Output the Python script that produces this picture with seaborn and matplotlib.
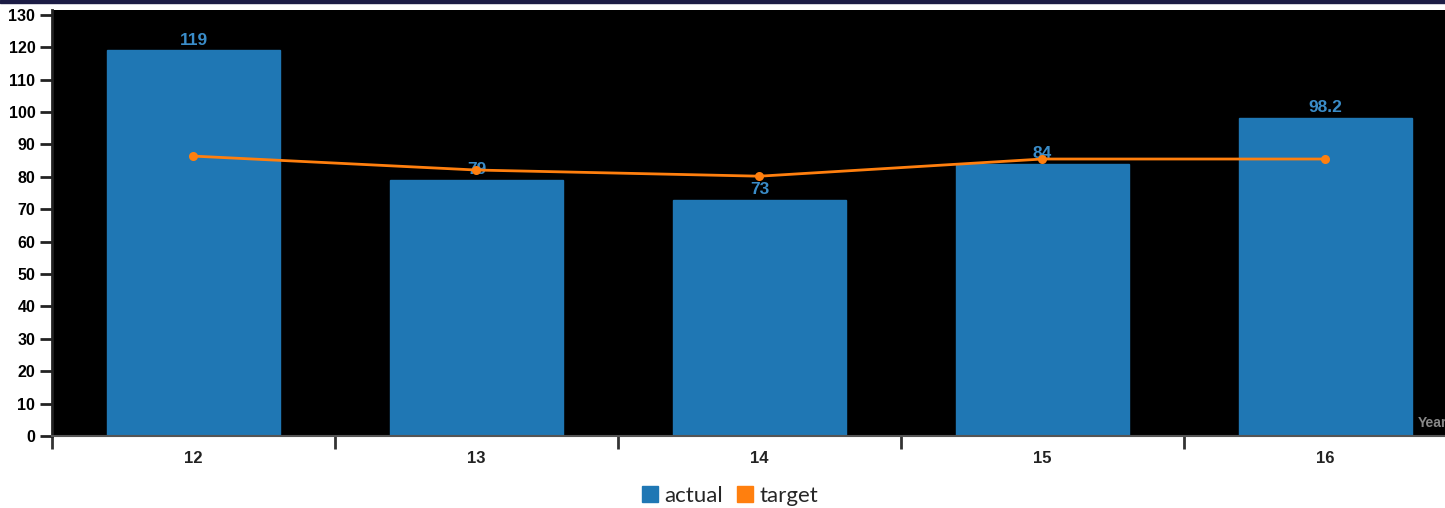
import matplotlib
matplotlib.use("Agg")
import matplotlib.pyplot as plt
import matplotlib.patches as mpatches
import seaborn as sns
import numpy as np

# Data
years = ["12", "13", "14", "15", "16"]
actual = [119, 79, 73, 84, 98.2]
target = [86.4, 82.1, 80.2, 85.5, 85.5]
actual_labels = ["119", "79", "73", "84", "98.2"]

BLUE = "#1f77b4"
ORANGE = "#ff7f0e"
LABEL_BLUE = "#3a8cc8"

sns.set_theme(style="white")
plt.rcParams["font.family"] = ["Liberation Sans", "DejaVu Sans"]

fig = plt.figure(figsize=(14.45, 5.08), dpi=100)
W, H = 1445, 508
ax = fig.add_axes([52 / W, (H - 436) / H, (W - 52) / W, (436 - 10) / H])
ax.set_facecolor("black")

sns.barplot(x=years, y=actual, color=BLUE, width=0.61, saturation=1,
            edgecolor=BLUE, ax=ax, zorder=2)
sns.pointplot(x=years, y=target, color=ORANGE, markers="o", markersize=5,
              linewidth=2, ax=ax, zorder=4)

for i, (v, lab) in enumerate(zip(actual, actual_labels)):
    ax.annotate(lab, (i, v), xytext=(0, 2), textcoords="offset points",
                ha="center", va="bottom", color=LABEL_BLUE, fontsize=12.5,
                fontweight="bold", zorder=3)

ax.set_ylim(0, 131.5)
ax.set_xlim(-0.5, -0.5 + (W - 52) / 283)
ax.set_yticks(np.arange(0, 131, 10))
ax.set_yticklabels([str(t) for t in range(0, 131, 10)], fontsize=11.5,
                   fontweight="bold", color="black")

# category labels at centres, tick marks at band boundaries
ax.set_xticks(range(len(years)))
ax.set_xticklabels(years, fontsize=12, fontweight="bold", color="#222222")
ax.set_xticks(np.arange(-0.5, len(years) - 0.5, 1.0), minor=True)
ax.tick_params(axis="x", which="both", bottom=True)
ax.tick_params(axis="x", which="major", length=0, pad=11)
ax.tick_params(axis="x", which="minor", length=9, width=2, color="#333333",
               direction="out")
ax.tick_params(axis="y", length=9, width=2, color="#222222", direction="out",
               pad=3, left=True)

for s in ["top", "right"]:
    ax.spines[s].set_visible(False)
ax.spines["left"].set_color("#222222")
ax.spines["left"].set_linewidth(2)
ax.spines["bottom"].set_color("#555555")
ax.spines["bottom"].set_linewidth(1.5)
ax.set_xlabel("")
ax.set_ylabel("")

fig.text(1418 / W, 1 - 423 / H, "Year", color="#888888",
         fontsize=10, fontweight="bold", ha="left", va="center")

# thin banner strip along the top edge
fig.patches.append(mpatches.Rectangle((0, 1 - 3 / H), 1, 3 / H,
                                      transform=fig.transFigure,
                                      color="#1c1c45", zorder=0))

handles = [mpatches.Patch(color=BLUE, label="actual"),
           mpatches.Patch(color=ORANGE, label="target")]
fig.legend(handles=handles, loc="center", bbox_to_anchor=(730 / W, 1 - 496 / H),
           ncol=2, frameon=False, handlelength=0.72, handleheight=0.72,
           handletextpad=0.3, columnspacing=0.6,
           prop={"family": "Lato", "size": 16})

fig.savefig("out.png", dpi=100)
